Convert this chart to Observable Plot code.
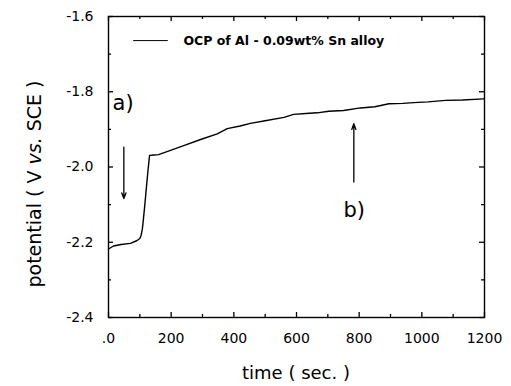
<!DOCTYPE html>
<html>
<head>
<meta charset="utf-8">
<script src="https://cdn.jsdelivr.net/npm/d3@7"></script>
<script src="https://cdn.jsdelivr.net/npm/@observablehq/plot@0.6"></script>
<style>
  html, body { margin: 0; padding: 0; background: #fff; }
  svg { display: block; }
</style>
</head>
<body>
<div id="chart"></div>
<script>
// time (sec.) and potential (V vs. SCE)
const time = [0, 16, 40, 70, 90, 100, 104, 108, 111, 116, 121, 126, 131, 145, 160, 200, 240, 294, 347, 379, 420, 453, 500, 560, 591, 630, 666, 703, 750, 804, 850, 895, 940, 974, 1020, 1076, 1130, 1198];
const potential = [-2.218, -2.210, -2.206, -2.203, -2.196, -2.190, -2.182, -2.165, -2.142, -2.100, -2.054, -2.010, -1.969, -1.968, -1.967, -1.955, -1.943, -1.927, -1.912, -1.898, -1.891, -1.884, -1.877, -1.868, -1.860, -1.858, -1.856, -1.852, -1.850, -1.843, -1.840, -1.832, -1.831, -1.829, -1.827, -1.823, -1.822, -1.819];

const xMajorTicks = [0, 200, 400, 600, 800, 1000, 1200];
const xTickLabels = [".0", "200", "400", "600", "800", "1000", "1200"];
const xMinorTicks = [100, 300, 500, 700, 900, 1100];
const yMajorTicks = [-2.4, -2.2, -2.0, -1.8, -1.6];
const yTickLabels = ["-2.4", "-2.2", "-2.0", "-1.8", "-1.6"];
const yMinorTicks = [-2.3, -2.1, -1.9, -1.7];

// annotations
const arrowTime = [49, 783];
const arrowFrom = [-1.947, -2.040];
const arrowTo = [-2.084, -1.885];
const noteText = ["a)", "b)"];
const noteTime = [13, 750];
const noteValue = [-1.831, -2.116];
const legendLineTime = [80, 188];
const legendValue = -1.664;
const legendTextTime = 239;
const legendText = "OCP of Al - 0.09wt% Sn alloy";

const series = time.map((t, i) => ({t, v: potential[i]}));
const arrows = arrowTime.map((t, i) => ({t, from: arrowFrom[i], to: arrowTo[i]}));
const notes = noteText.map((s, i) => ({s, t: noteTime[i], v: noteValue[i]}));

const font = "DejaVu Sans, Liberation Sans, Arial, sans-serif";

const W = 511, H = 386, ML = 108, MR = 27, MT = 16, MB = 69;
const FW = W - ML - MR, FH = H - MT - MB;
const major = 5, minor = 3;
const tickStyle = {stroke: "#000", strokeWidth: 1.3};

const plot = Plot.plot({
  width: W,
  height: H,
  marginLeft: ML,
  marginRight: MR,
  marginTop: MT,
  marginBottom: MB,
  style: {fontFamily: font, fontSize: "14px", background: "#fff"},
  x: {domain: [0, 1200], label: null},
  y: {domain: [-2.4, -1.6], label: null},
  marks: [
    Plot.frame({stroke: "#000", strokeWidth: 1.4}),
    // inward major & minor ticks on all four sides
    Plot.ruleX(xMajorTicks, {x: d => d, insetTop: FH - major, ...tickStyle}),
    Plot.ruleX(xMinorTicks, {x: d => d, insetTop: FH - minor, ...tickStyle}),
    Plot.ruleX(xMajorTicks, {x: d => d, insetBottom: FH - major, ...tickStyle}),
    Plot.ruleX(xMinorTicks, {x: d => d, insetBottom: FH - minor, ...tickStyle}),
    Plot.ruleY(yMajorTicks, {y: d => d, insetRight: FW - major, ...tickStyle}),
    Plot.ruleY(yMinorTicks, {y: d => d, insetRight: FW - minor, ...tickStyle}),
    Plot.ruleY(yMajorTicks, {y: d => d, insetLeft: FW - major, ...tickStyle}),
    Plot.ruleY(yMinorTicks, {y: d => d, insetLeft: FW - minor, ...tickStyle}),
    // tick labels
    Plot.axisX(xMajorTicks, {anchor: "bottom", tickSize: 0, tickPadding: 16, tickFormat: (d) => xTickLabels[xMajorTicks.indexOf(d)], fontSize: 14}),
    Plot.axisY(yMajorTicks, {anchor: "left", tickSize: 0, tickPadding: 15, tickFormat: (d) => yTickLabels[yMajorTicks.indexOf(d)], fontSize: 14}),
    // data line
    Plot.line(series, {x: "t", y: "v", stroke: "#000", strokeWidth: 1.4}),
    // arrows
    Plot.arrow(arrows, {x1: "t", y1: "from", x2: "t", y2: "to", stroke: "#000", strokeWidth: 1.3, headLength: 7, headAngle: 40}),
    // a) b)
    Plot.text(notes, {x: "t", y: "v", text: "s", textAnchor: "start", lineAnchor: "middle", fontSize: 21, fill: "#000"}),
    // legend
    Plot.line(legendLineTime.map(t => ({t, v: legendValue})), {x: "t", y: "v", stroke: "#000", strokeWidth: 1}),
    Plot.text([legendText], {x: legendTextTime, y: legendValue, text: d => d, textAnchor: "start", lineAnchor: "middle", fontSize: 12.5, fontWeight: "bold", fill: "#000"})
  ]
});

const svg = d3.select(plot);
// axis titles
svg.append("text")
  .attr("x", 296).attr("y", 379)
  .attr("text-anchor", "middle")
  .attr("font-family", font).attr("font-size", 18).attr("fill", "#000")
  .text("time ( sec. )");

const yl = svg.append("text")
  .attr("transform", "translate(41,184) rotate(-90)")
  .attr("text-anchor", "middle")
  .attr("font-family", font).attr("font-size", 19).attr("fill", "#000");
yl.append("tspan").text("potential ( V ");
yl.append("tspan").attr("font-style", "italic").text("vs.");
yl.append("tspan").text(" SCE )");

document.getElementById("chart").appendChild(plot);
</script>
</body>
</html>
